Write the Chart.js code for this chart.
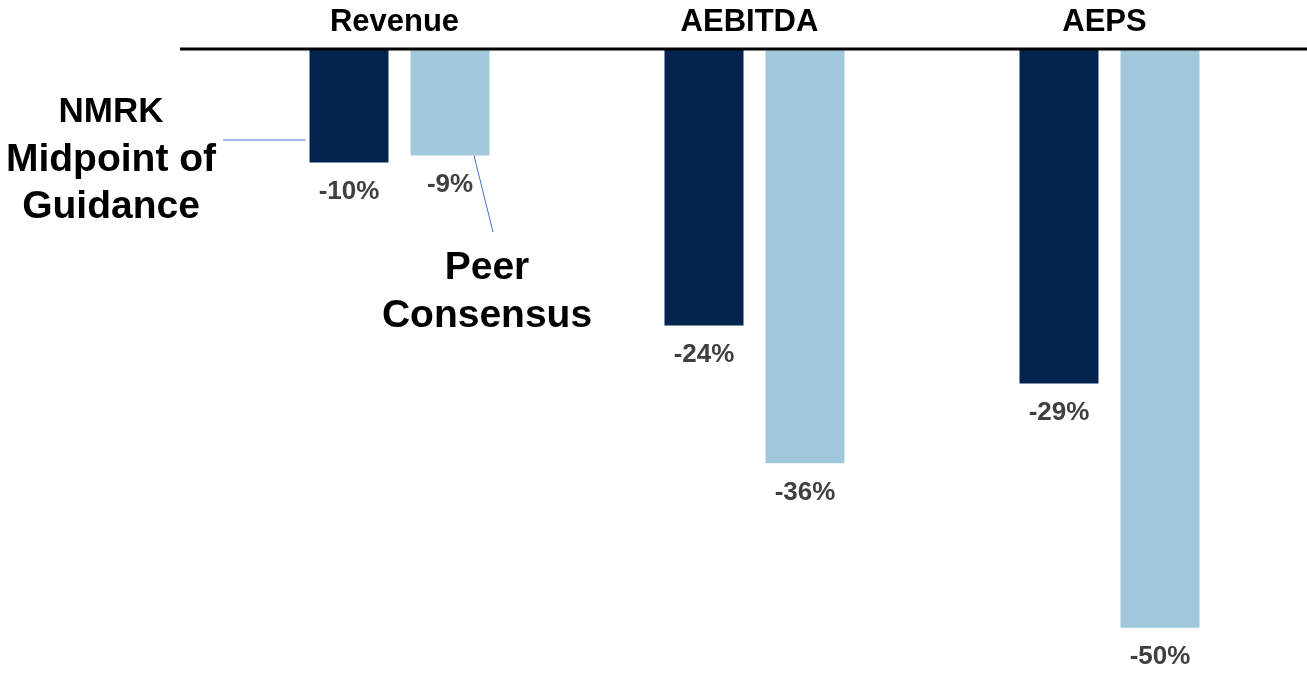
<!DOCTYPE html>
<html>
<head>
<meta charset="utf-8">
<script src="https://cdn.jsdelivr.net/npm/chart.js@4/dist/chart.umd.min.js"></script>
<style>
  html, body { margin: 0; padding: 0; background: #fff; }
  #wrap { position: relative; width: 1307px; height: 678px; }
</style>
</head>
<body>
<div id="wrap"><canvas id="growth-chart"></canvas></div>
<script>
/* ===================== DATA ===================== */

const categories = ["Revenue", "AEBITDA", "AEPS"];

// midpoint of NMRK guidance vs peer consensus (% change)
const nmrkValues = [-9.8, -23.9, -28.9];
const peerValues = [-9.2, -35.8, -50.0];

const nmrkLabels = ["-10%", "-24%", "-29%"];
const peerLabels = ["-9%", "-36%", "-50%"];

const FONT = '"Liberation Sans", Arial, sans-serif';
const NAVY = "#02244f";
const LIGHT = "#a1c8da";

/* ===================== PLUGINS ===================== */

// value labels under each bar
const valueLabels = {
  id: "valueLabels",
  afterDatasetsDraw(chart) {
    const ctx = chart.ctx;
    ctx.save();
    ctx.font = `bold 26px ${FONT}`;
    ctx.fillStyle = "#404040";
    ctx.textAlign = "center";
    ctx.textBaseline = "middle";
    chart.data.datasets.forEach((ds, i) => {
      const meta = chart.getDatasetMeta(i);
      meta.data.forEach((bar, j) => {
        ctx.fillText(ds.valueText[j], bar.x, bar.y + 29);
      });
    });
    ctx.restore();
  },
};

// black zero line running across the top
const zeroLine = {
  id: "zeroLine",
  afterDatasetsDraw(chart) {
    const ctx = chart.ctx;
    const y = chart.scales.y.getPixelForValue(0);
    ctx.save();
    ctx.strokeStyle = "#000";
    ctx.lineWidth = 3;
    ctx.beginPath();
    ctx.moveTo(180, y);
    ctx.lineTo(chart.width, y);
    ctx.stroke();
    ctx.restore();
  },
};

// series call-outs (instead of a legend)
const callouts = {
  id: "callouts",
  afterDraw(chart) {
    const ctx = chart.ctx;
    ctx.save();
    ctx.strokeStyle = "#4472c4";
    ctx.lineWidth = 1;

    const nmrkBar = chart.getDatasetMeta(0).data[0];
    const peerBar = chart.getDatasetMeta(1).data[0];

    ctx.beginPath();
    ctx.moveTo(223, 140);
    ctx.lineTo(nmrkBar.x - nmrkBar.width / 2 - 4, 140);
    ctx.stroke();

    ctx.beginPath();
    ctx.moveTo(peerBar.x + 24, peerBar.y);
    ctx.lineTo(493, 232);
    ctx.stroke();

    ctx.fillStyle = "#000";
    ctx.textAlign = "center";
    ctx.textBaseline = "middle";
    ctx.font = `bold 35px ${FONT}`;
    ctx.fillText("NMRK", 111, 112);
    ctx.font = `bold 39px ${FONT}`;
    ctx.fillText("Midpoint of", 111, 160);
    ctx.fillText("Guidance", 111, 207);
    ctx.fillText("Peer", 487, 268);
    ctx.fillText("Consensus", 487, 316);
    ctx.restore();
  },
};

/* ===================== CHART ===================== */

new Chart(document.getElementById("growth-chart"), {
  type: "bar",
  data: {
    labels: categories,
    datasets: [
      {
        label: "NMRK Midpoint of Guidance",
        data: nmrkValues,
        valueText: nmrkLabels,
        backgroundColor: NAVY,
        borderWidth: 0,
      },
      {
        label: "Peer Consensus",
        data: peerValues,
        valueText: peerLabels,
        backgroundColor: LIGHT,
        borderWidth: 0,
      },
    ],
  },
  options: {
    responsive: true,
    maintainAspectRatio: false,
    animation: false,
    layout: { padding: { left: 222, right: 20, top: 0, bottom: 4 } },
    plugins: {
      legend: { display: false },
      tooltip: { enabled: false },
    },
    datasets: {
      bar: { categoryPercentage: 0.569, barPercentage: 0.782 },
    },
    scales: {
      x: {
        position: "top",
        grid: { display: false, drawTicks: false },
        border: { display: false },
        ticks: {
          color: "#000",
          padding: 8,
          labelOffset: -5,
          font: { family: FONT, size: 31, weight: "bold" },
        },
        afterFit: (scale) => {
          scale.height = 49;
        },
      },
      y: {
        display: false,
        min: -54,
        max: 0,
      },
    },
  },
  plugins: [valueLabels, zeroLine, callouts],
});
</script>
</body>
</html>
